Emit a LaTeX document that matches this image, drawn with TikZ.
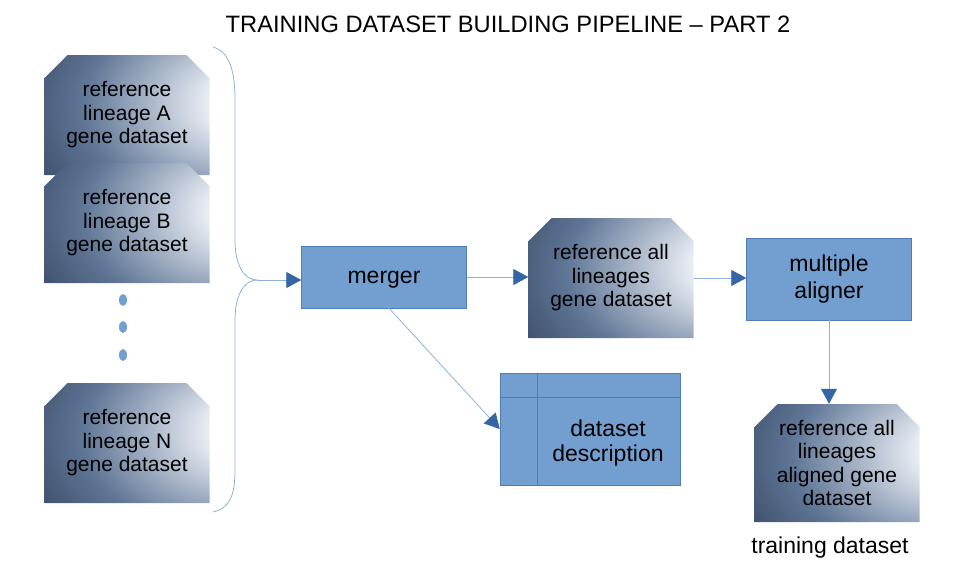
\documentclass[tikz,border=0pt]{standalone}
\usepackage{fontspec}
\setmainfont{Liberation Sans}
\usetikzlibrary{shapes.misc,arrows.meta,positioning}
\definecolor{dsdark}{RGB}{34,48,74}
\definecolor{dsmid}{RGB}{96,118,150}
\definecolor{dslight}{RGB}{236,240,246}
\definecolor{procblue}{RGB}{114,159,207}
\definecolor{procedge}{RGB}{80,124,184}
\definecolor{linkblue}{RGB}{140,178,220}
\definecolor{headblue}{RGB}{52,101,164}
\pgfdeclareradialshading{dsglow}{\pgfpoint{44bp}{6bp}}{%
  color(0bp)=(dslight); color(13bp)=(dslight); color(40bp)=(dsmid);
  color(66bp)=(dsdark); color(100bp)=(dsdark)}

\begin{document}
\begin{tikzpicture}[x=1pt,y=-1pt,
  dsbox/.style={chamfered rectangle,chamfered rectangle corners={north west,north east},
                chamfered rectangle xsep=11pt,chamfered rectangle ysep=12pt,
                minimum width=165pt,minimum height=120pt,inner sep=0pt,
                shade,shading=dsglow,
                align=center,font=\fontsize{21}{23.5}\selectfont},
  procbox/.style={draw=procedge,fill=procblue,minimum width=165pt,
                  align=center,font=\fontsize{23}{27}\selectfont},
  plain/.style={font=\fontsize{23}{25}\selectfont,align=center},
  link/.style={draw=linkblue,line width=0.8pt},
  flow/.style={link,-{Triangle[length=15pt,width=16pt,color=headblue]}},
]
\useasboundingbox (0,0) rectangle (969,579);
\node[plain,font=\fontsize{23.7}{26}\selectfont] (title) at (508,24) {TRAINING DATASET BUILDING PIPELINE – PART 2};
\node[dsbox] (dsA) at (127,115) {reference\\lineage A\\gene dataset};
\node[dsbox] (dsB) at (127,223) {reference\\lineage B\\gene dataset};
\foreach \y in {300,327,355}
  \fill[procblue] (123,\y) ellipse (4pt and 6pt);
\node[dsbox] (dsN) at (127,443) {reference\\lineage N\\gene dataset};
\coordinate (bracetip) at (257,280);
\draw[link] (213,47) .. controls (230,52) and (235,72) .. (235,100) -- (235,240)
  .. controls (235,265) and (244,280) .. (bracetip)
  .. controls (244,280) and (235,295) .. (235,320) -- (235,470)
  .. controls (235,495) and (230,508) .. (213,512);
\node[procbox,minimum height=62pt,text depth=-4pt] (merger) at (384,277) {merger};
\node[dsbox] (dsAll) at (611,278) {reference all\\lineages\\gene dataset};
\node[procbox,minimum height=82pt] (aligner) at (829,279) {multiple\\aligner};
\node[procbox,minimum width=180pt,minimum height=112pt] (desc) at (590,429) {};
\draw[procedge,line width=0.6pt] ([xshift=37pt]desc.north west) -- ([xshift=37pt]desc.south west);
\draw[procedge,line width=0.6pt] ([yshift=-24pt]desc.north west) -- ([yshift=-24pt]desc.north east);
\node[plain] (desctext) at (608,443) {dataset\\description};
\node[dsbox,minimum height=118pt] (dsAligned) at (837,463) {reference all\\lineages\\aligned gene\\dataset};
\node[plain] (train) at (830,548) {training dataset};
\draw[flow] (bracetip) -- (bracetip -| merger.west);
\draw[flow] (merger.east) -- (merger.east -| dsAll.west);
\draw[flow] (dsAll.east) -- (dsAll.east -| aligner.west);
\draw[flow] ([xshift=5pt]merger.south) -- (desc.west);
\draw[flow] (aligner.south) -- (aligner.south |- dsAligned.north);
\end{tikzpicture}
\end{document}
